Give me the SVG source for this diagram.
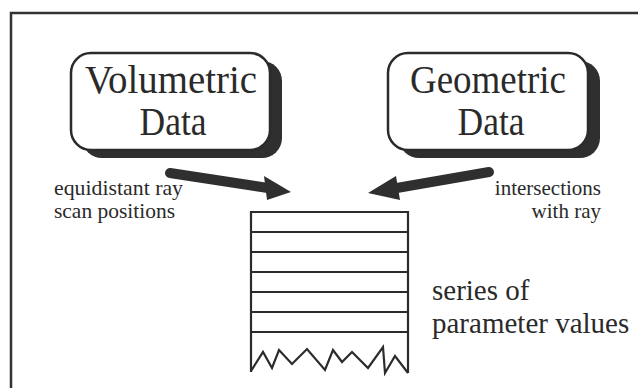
<svg xmlns="http://www.w3.org/2000/svg" width="638" height="388" viewBox="0 0 638 388">
<defs>
<style>
.frame{fill:none;stroke:#333;stroke-width:2.5}
.box{fill:#fff;stroke:#2b2b2b;stroke-width:2.5}
.shadow{fill:#2f2f2f}
text{font-family:'Liberation Serif','DejaVu Serif','Times New Roman',serif;fill:#2a2a2a}
.big{font-size:41px;text-anchor:middle}
.lbl{font-size:21px}
.mid{font-size:29px}
.shaft{stroke:#2f2f2f;stroke-width:10;stroke-linecap:round;fill:none}
.head{fill:#2f2f2f}
.stk{fill:none;stroke:#2b2b2b;stroke-width:2.2;stroke-linejoin:miter}
</style>
</defs>
<rect x="0" y="0" width="638" height="388" fill="#fff"/>
<path class="frame" d="M11,388 L11,13 L638,13"/>
<g id="volumetric">
<rect class="shadow" x="82" y="61" width="200" height="97" rx="20"/>
<rect class="box" x="71" y="53" width="199" height="97" rx="20"/>
<text class="big" x="171" y="93" textLength="172" lengthAdjust="spacingAndGlyphs">Volumetric</text>
<text class="big" x="173" y="135" textLength="67" lengthAdjust="spacingAndGlyphs">Data</text>
</g>
<g id="geometric">
<rect class="shadow" x="399" y="61" width="201" height="97" rx="20"/>
<rect class="box" x="388" y="53" width="200" height="97" rx="20"/>
<text class="big" x="488" y="93" textLength="156" lengthAdjust="spacingAndGlyphs">Geometric</text>
<text class="big" x="491" y="135" textLength="67" lengthAdjust="spacingAndGlyphs">Data</text>
</g>
<g id="stack">
<path class="stk" d="M251,372 L251,212 L408,212 L408,373"/>
<path class="stk" d="M251,232 H408 M251,252 H408 M251,272 H408 M251,292 H408 M251,312 H408 M251,332 H408"/>
<path class="stk" d="M251,371 L263,352 L272,368 L279,350 L292,364 L307,349 L325,370 L333,350 L342,362 L352,352 L368,368 L383,347 L385,373 L395,356 L408,373"/>
</g>
<g id="labels">
<text class="lbl" x="54" y="195" textLength="129" lengthAdjust="spacingAndGlyphs">equidistant ray</text>
<text class="lbl" x="54" y="218" textLength="121" lengthAdjust="spacingAndGlyphs">scan positions</text>
<text class="lbl" x="601" y="195" text-anchor="end">intersections</text>
<text class="lbl" x="601" y="218" text-anchor="end">with ray</text>
<text class="mid" x="432" y="300">series of</text>
<text class="mid" x="432" y="333">parameter values</text>
</g>
<g id="connectors">
<path class="shaft" d="M170,173 L268,188"/>
<polygon class="head" points="264,176 291,192 267,200"/>
<path class="shaft" d="M489,172 L391,189"/>
<polygon class="head" points="396,176 368,193 400,200"/>
</g>
</svg>
